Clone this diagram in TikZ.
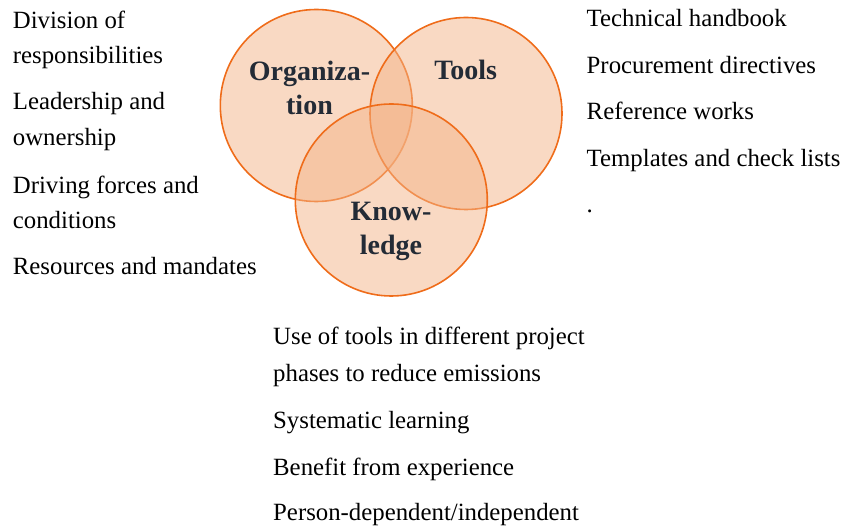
\documentclass[tikz,border=0pt]{standalone}
\usepackage{fontspec}
\setmainfont{Liberation Serif}
\begin{document}
\begin{tikzpicture}[x=1pt,y=1pt,
  venn/.style={circle, minimum size=192pt, inner sep=0pt, draw=vline, line width=1.6pt, fill=vfill, fill opacity=0.5},
  item/.style={anchor=base west, inner sep=0pt, font=\fontsize{24.8}{35}\selectfont, text=black},
  lbl/.style={anchor=base, inner sep=0pt, font=\fontsize{28}{34}\selectfont\bfseries, text=lblc, fill opacity=1, text opacity=1}]
\definecolor{vline}{HTML}{EF6C1A}
\definecolor{vfill}{HTML}{F3B387}
\definecolor{lblc}{HTML}{232B36}
\useasboundingbox (0,0) rectangle (842,527);
% circles
\node[venn] (org) at (316.3,421.5) {};
\node[venn] (tools) at (466,413.5) {};
\node[venn] (know) at (391.3,327) {};
% circle labels
\node[lbl] (orgl1) at (309.5,446) {Organiza-};
\node[lbl] (orgl2) at (309.5,412) {tion};
\node[lbl] (tooll) at (465.7,447) {Tools};
\node[lbl] (knowl1) at (391,306.3) {Know-};
\node[lbl] (knowl2) at (391,272) {ledge};
% left texts
\node[item] (l1a) at (12.7,498.7) {Division of};
\node[item] (l1b) at (12.7,463.7) {responsibilities};
\node[item] (l2a) at (12.7,417) {Leadership and};
\node[item] (l2b) at (12.7,381.3) {ownership};
\node[item] (l3a) at (12.7,333.7) {Driving forces and};
\node[item] (l3b) at (12.7,298.7) {conditions};
\node[item] (l4) at (12.7,252) {Resources and mandates};
% right texts
\node[item] (r1) at (586.5,500.3) {Technical handbook};
\node[item] (r2) at (586.5,453.3) {Procurement directives};
\node[item] (r3) at (586.5,407) {Reference works};
\node[item] (r4) at (586.5,360.3) {Templates and check lists};
\node[item] (r5) at (586.5,314) {.};
% bottom texts
\node[item] (b1a) at (273,182) {Use of tools in different project};
\node[item] (b1b) at (273,145.3) {phases to reduce emissions};
\node[item] (b2) at (273,98.7) {Systematic learning};
\node[item] (b3) at (273,52) {Benefit from experience};
\node[item] (b4) at (273,7) {Person-dependent/independent};
\end{tikzpicture}
\end{document}
